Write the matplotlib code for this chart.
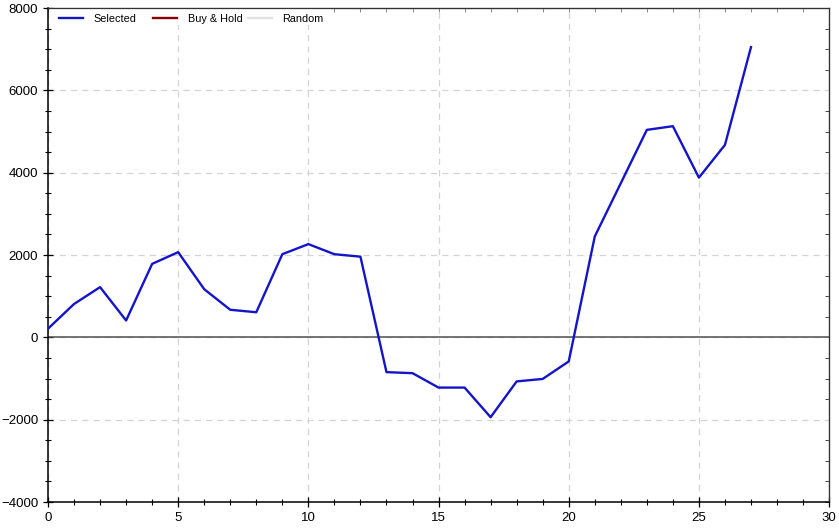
import matplotlib
matplotlib.use("Agg")
import matplotlib.pyplot as plt
from matplotlib.legend import Legend
from matplotlib.patches import Rectangle
from matplotlib.ticker import MultipleLocator

plt.rcParams['font.family'] = ['Liberation Sans', 'DejaVu Sans']

# equity curve values
trades = list(range(28))
selected = [210, 810, 1220, 410, 1785, 2070, 1170, 670, 610, 2020,
            2265, 2020, 1960, -845, -870, -1220, -1220, -1940, -1070, -1010,
            -585, 2450, 3745, 5040, 5130, 3880, 4675, 7050]
series_names = ["Selected", "Buy & Hold", "Random"]
series_colors = ["#1414c8", "#8b0000", "#e2e2e2"]

fig = plt.figure(figsize=(8.39, 5.28), dpi=100)
ax = fig.add_axes([0.0572, 0.0492, 0.931, 0.9356])

lines = []
lines += ax.plot(trades, selected, color=series_colors[0], lw=1.7, zorder=3)
lines += ax.plot([], [], color=series_colors[1], lw=1.7)
lines += ax.plot([], [], color=series_colors[2], lw=1.7)

ax.axhline(0, color="#505050", lw=1.1, zorder=2)

ax.set_xlim(0, 30)
ax.set_ylim(-4000, 8000)
ax.xaxis.set_major_locator(MultipleLocator(5))
ax.xaxis.set_minor_locator(MultipleLocator(1))
ax.yaxis.set_major_locator(MultipleLocator(2000))
ax.yaxis.set_minor_locator(MultipleLocator(500))

ax.grid(True, which="major", color="#d4d4d4", ls=(0, (5, 4)), lw=0.9)

ax.tick_params(which="both", direction="inout", colors="black", labelsize=9.5)
ax.tick_params(which="major", length=7, width=0.9)
ax.tick_params(which="minor", length=5, width=0.8)

# inward ticks on the top and right borders
top = ax.secondary_xaxis("top")
top.xaxis.set_major_locator(MultipleLocator(5))
top.xaxis.set_minor_locator(MultipleLocator(1))
top.tick_params(which="both", direction="in", length=3, width=0.6,
                colors="#777777", labeltop=False)
right = ax.secondary_yaxis("right")
right.yaxis.set_major_locator(MultipleLocator(2000))
right.yaxis.set_minor_locator(MultipleLocator(500))
right.tick_params(which="both", direction="in", length=3, width=0.7,
                  colors="#444444", labelright=False)
top.spines["top"].set_color("#333333")
right.spines["right"].set_color("#333333")

for side in ["left", "bottom"]:
    ax.spines[side].set_color("black")
    ax.spines[side].set_linewidth(1.1)
for side in ["top", "right"]:
    ax.spines[side].set_color("#333333")
    ax.spines[side].set_linewidth(0.9)

# white band behind the legend hides the grid there
ax.add_patch(Rectangle((0.002, 0.966), 0.36, 0.032, transform=ax.transAxes,
                       facecolor="white", edgecolor="none", zorder=2))

# legend entries sit in fixed-width slots
slot_x = [0.0141, 0.1344, 0.256]
for i, (ln, name) in enumerate(zip(lines, series_names)):
    leg = Legend(ax, [ln], [name], loc="upper left", frameon=False, fontsize=7.8,
                 handlelength=2.2, handletextpad=1.0, borderpad=0,
                 borderaxespad=0, bbox_to_anchor=(slot_x[i], 0.988))
    leg.set_zorder(5)
    ax.add_artist(leg)

fig.savefig("out.png", dpi=100)
